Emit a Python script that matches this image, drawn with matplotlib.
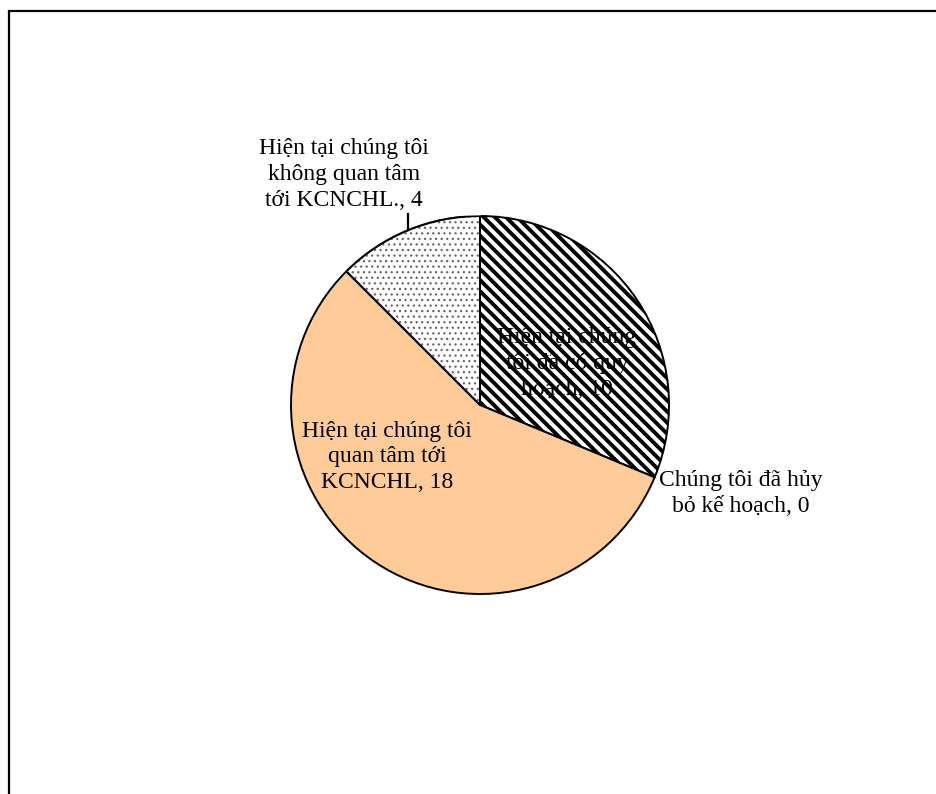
import numpy as np
import matplotlib
matplotlib.use("Agg")
import matplotlib.pyplot as plt
from matplotlib.patches import Wedge, Rectangle

plt.rcParams['font.family'] = ['Liberation Serif', 'DejaVu Serif']

# slices, clockwise from 12 o'clock
labels = ["Hiện tại chúng\ntôi đã có quy\nhoạch, 10",
          "Chúng tôi đã hủy\nbỏ kế hoạch, 0",
          "Hiện tại chúng tôi\nquan tâm tới\nKCNCHL, 18",
          "Hiện tại chúng tôi\nkhông quan tâm\ntới KCNCHL., 4"]
values = [10, 0, 18, 4]
# label centres in pie-radius units
label_pos = [(0.46, 0.22), (1.38, -0.47), (-0.49, -0.275), (-0.72, 1.22)]

fig = plt.figure(figsize=(9.36, 7.94), dpi=100)

# outer frame (right and bottom edges fall outside the picture)
fig.add_artist(Rectangle((9 / 936, -0.1), 1.2, 1 - 11 / 794 + 0.1,
                         transform=fig.transFigure, fill=False,
                         edgecolor='black', linewidth=1.6))

cx, cy, r = 480, 405, 189
ax = fig.add_axes([(cx - r) / 936, (794 - cy - r) / 794, 2 * r / 936, 2 * r / 794])

wedges, _ = ax.pie(values, startangle=90, counterclock=False,
                   colors=['white', 'white', '#FFCC99', 'white'],
                   wedgeprops=dict(edgecolor='black', linewidth=1.4))

# striped slice
plt.rcParams['hatch.linewidth'] = 2.8
wedges[0].set_hatch('\\\\\\')
if hasattr(wedges[0], 'set_hatch_linewidth'):
    wedges[0].set_hatch_linewidth(2.8)

# dotted slice: grey dots, black outline on top
w = wedges[3]
w.set_edgecolor('#686868')
w.set_hatch('...')
if hasattr(w, 'set_hatch_linewidth'):
    w.set_hatch_linewidth(0.9)
ax.add_patch(Wedge(w.center, w.r, w.theta1, w.theta2, fill=False,
                   edgecolor='black', linewidth=1.4, zorder=w.get_zorder() + 0.1))

ax.set_xlim(-1, 1)
ax.set_ylim(-1, 1)
ax.set_aspect('equal')
ax.axis('off')

for lab, (x, y) in zip(labels, label_pos):
    ax.text(x, y, lab, ha='center', va='center', fontsize=17,
            linespacing=1.3, clip_on=False, zorder=5)

# leader line for the small slice
mid = np.deg2rad((wedges[3].theta1 + wedges[3].theta2) / 2)
ax.plot([np.cos(mid), np.cos(mid)], [np.sin(mid), 1.01], color='black',
        linewidth=1.6, clip_on=False)

fig.savefig('out.png', dpi=100)
